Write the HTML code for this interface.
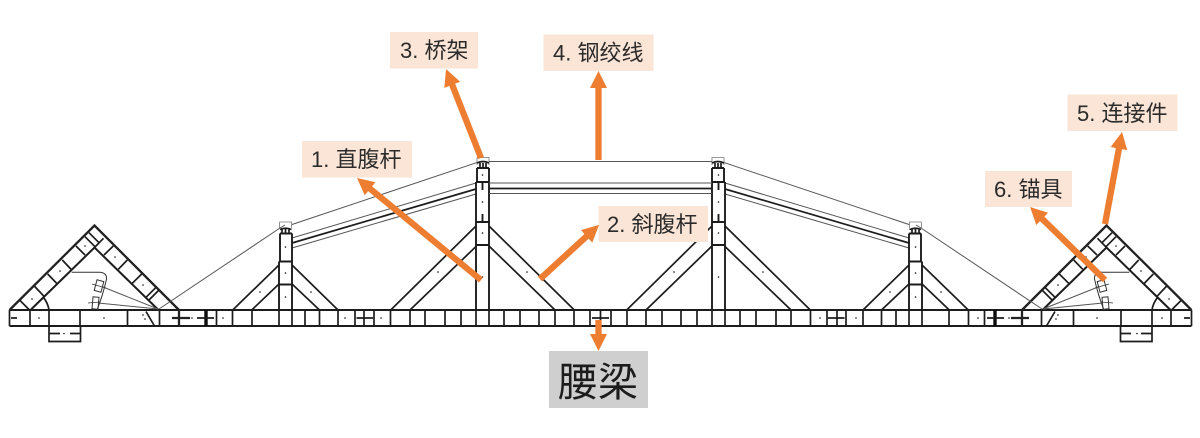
<!DOCTYPE html>
<html lang="zh"><head><meta charset="utf-8"><style>
html,body{margin:0;padding:0;background:#fff;width:1200px;height:438px;overflow:hidden}
svg{display:block}
text{font-family:"Liberation Sans","Noto Sans CJK SC",sans-serif;fill:#2b2b2b}
.s{fill:none;stroke:#1c1c1c;stroke-width:1.7}
.t{fill:none;stroke:#222;stroke-width:2.3}
.g{fill:none;stroke:#555;stroke-width:1}
.f{fill:none;stroke:#777;stroke-width:.8}
.a{stroke:#ed7d31;stroke-width:6.3;fill:none}
</style></head><body>
<svg width="1200" height="438" viewBox="0 0 1200 438" xmlns="http://www.w3.org/2000/svg">
<defs>
<filter id="b" x="-2%" y="-2%" width="104%" height="104%"><feGaussianBlur stdDeviation="0.35"/></filter>
<marker id="h" markerUnits="userSpaceOnUse" markerWidth="20" markerHeight="20" refX="2" refY="10" orient="auto"><path d="M0 1.5 L17 10 L0 18.5Z" fill="#ed7d31"/></marker>
<g id="half">
 <!-- chord -->
 <path class="s" d="M9.5 310H600.5M9.5 326H600.5" style="stroke-width:1.9"/>
 <path class="s" d="M9.5 310V326M30 310V326M49 310V326M80 310V326M127.5 310V326M159.5 310V326M216.5 310V326M232.5 310V326M252 310V326M279 310V326M292 310V326M305 310V326M319.5 310V326M338 310V326M355 310V326M374 310V326M390.5 310V326M410 310V326M425 310V326M445 310V326M461 310V326M476 310V326M489 310V326M504 310V326M520 310V326M539 310V326M555 310V326M574 310V326M590 310V326"/>
 <path class="t" d="M179 310V326M172 318H190"/>
 <path d="M206 310V326" stroke="#111" stroke-width="3.4"/>
 <path class="s" d="M197 318H214M11 318H17M146 311.5L154.5 326"/>
 <path class="s" d="M364 310V326M356.5 318H373"/>
 <!-- saddle under chord -->
 <path class="s" d="M49 326V341.5H80.5V326M49 333.5H60M70 333.5H80.5"/>
 <!-- triangle -->
 <path class="t" d="M9.5 310L94.5 225.5L179 310"/>
 <path class="s" d="M30.5 310L94.5 247.5L158.5 310" style="stroke-width:2"/>
 <path class="s" d="M43.3 297.3Q48 303 49 310M20 300.5L29.5 310M34.3 286L44.3 296.7M47.7 274L57.3 284M62.3 260L71.7 270M76 246L85 255M85 236.7L95 246.7M89 232.7L99 242.7M94.5 247.5L103.5 238.3M104 255L113.3 246M118.3 269.3L127.3 260M132.3 283.3L141.7 274M146 297.3L155.7 287.7M149 300L158.5 290.5"/>
 <!-- anchor -->
 <path class="f" style="stroke:#333;stroke-width:1" d="M71.7 272.3H100Q107 273 106.5 279Q103 295 97 310"/>
 <path class="g" d="M158 309L103 287M158 309L98 303"/>
 <rect class="f" style="stroke:#333;stroke-width:1" x="95.5" y="280.5" width="7" height="11" transform="rotate(15 99 286)"/>
 <rect class="f" style="stroke:#333;stroke-width:1" x="92.5" y="297" width="6" height="12" transform="rotate(5 95 303)"/>
 <path class="f" style="stroke:#333" d="M92 284L106 288M88 303L100 302"/>
 <!-- outer cable -->
 <path class="g" d="M159 309L280 228L285 225M292 224.5L476.5 162.7"/>
 <!-- strands -->
 <path class="g" d="M292 238L476 183M292 248L476 194"/>
 <path class="s" d="M292 243L476 189"/>
 <!-- small post -->
 <path class="s" d="M279 261.5V310M292 261.5V310M280 233.5V261.5M292 233.5V261.5M279 261.5H292M279 284.5H292M280 233.5H292" style="stroke-width:1.9"/>
 <path class="f" d="M279.5 222H291.5V228M279.5 222V229"/>
 <path class="s" d="M280 229.5Q285.5 227 291.5 229.5M285.5 229V233.5M282 229V233.5M289 229V233.5"/>
 <!-- small diagonals -->
 <path class="s" d="M232.7 310L279 265M251.7 310L279 284M338 310L292 265M319.5 310L292 284"/>
 <!-- large post -->
 <path class="s" d="M476 182V310M489 182V310M477 168V182M489 168V182M477 168H489M476 182H489M476 222H489M476 245H489M482.5 182V190M482.5 214V222" style="stroke-width:1.9"/>
 <path class="f" d="M477 157.5H489V165M477 157.5V165"/>
 <path class="s" d="M477 163Q483 160 489 163M483 163V168M480 163V168M486 163V168"/>
 <!-- large diagonals -->
 <path class="s" d="M390.7 310L476 226M410 310L476 246.5M574.3 310L489 226M555 310L489 246"/>
 <!-- dots -->
 <g fill="#111">
  <circle cx="39" cy="318" r=".8"/><circle cx="104" cy="318" r=".8"/><circle cx="143" cy="315" r=".8"/><circle cx="145" cy="319" r=".8"/><circle cx="192" cy="318" r=".8"/><circle cx="223" cy="318" r=".8"/><circle cx="345" cy="318" r=".8"/><circle cx="381" cy="318" r=".8"/><circle cx="64" cy="333.5" r=".8"/>
  <circle cx="32" cy="299" r=".8"/><circle cx="60" cy="271" r=".8"/><circle cx="85" cy="246" r=".8"/><circle cx="115" cy="257" r=".8"/><circle cx="143" cy="285" r=".8"/>
  <circle cx="285.5" cy="247" r=".8"/><circle cx="285.5" cy="273" r=".8"/><circle cx="285.5" cy="297" r=".8"/><circle cx="260" cy="292" r=".8"/><circle cx="311" cy="292" r=".8"/>
  <circle cx="482.5" cy="175" r=".8"/><circle cx="482.5" cy="202" r=".8"/><circle cx="482.5" cy="233" r=".8"/><circle cx="482.5" cy="277" r=".8"/><circle cx="438" cy="272" r=".8"/><circle cx="527" cy="272" r=".8"/>
 </g>
</g>
</defs>
<g filter="url(#b)">
<use href="#half"/>
<use href="#half" transform="translate(1201 0) scale(-1 1)"/>
<path class="s" d="M489 161.5H712" style="stroke:#555;stroke-width:1.1"/>
<path class="g" d="M489 183H712M489 193.5H712"/>
<path class="s" d="M489 188.5H712"/>
<path class="s" d="M600.5 310V326M592 318H609"/>
</g>

<!-- labels -->
<rect x="390" y="32" width="88" height="36.5" fill="#fbe5d6"/>
<rect x="543.5" y="34.5" width="110" height="36.5" fill="#fbe5d6"/>
<rect x="302" y="141" width="110" height="36.5" fill="#fbe5d6"/>
<rect x="598.5" y="206" width="109.5" height="36" fill="#fbe5d6"/>
<rect x="1067.5" y="94.5" width="110" height="36.5" fill="#fbe5d6"/>
<rect x="985" y="171" width="87" height="36" fill="#fbe5d6"/>
<rect x="549" y="351" width="99" height="57" fill="#cfcfcf"/>
<text x="400" y="58" font-size="22">3. 桥架</text>
<text x="553" y="60.5" font-size="22">4. 钢绞线</text>
<text x="311" y="167" font-size="22">1. 直腹杆</text>
<text x="607" y="232" font-size="22">2. 斜腹杆</text>
<text x="1077" y="121" font-size="22">5. 连接件</text>
<text x="994" y="197" font-size="22">6. 锚具</text>
<text x="558" y="396" font-size="40" style="fill:#1c1c1c">腰梁</text>

<!-- arrows -->
<path class="a" marker-end="url(#h)" d="M481 280L368.6 187.5"/>
<path class="a" marker-end="url(#h)" d="M540 279L588 235"/>
<path class="a" marker-end="url(#h)" d="M481 158L451.5 83"/>
<path class="a" marker-end="url(#h)" d="M598.5 160V86"/>
<path class="a" marker-end="url(#h)" d="M1105 224L1119.3 146.7"/>
<path class="a" marker-end="url(#h)" d="M1105 280L1040.8 217.5"/>
<path class="a" marker-end="url(#h)" d="M598.5 320V336"/>
</svg>
</body></html>
